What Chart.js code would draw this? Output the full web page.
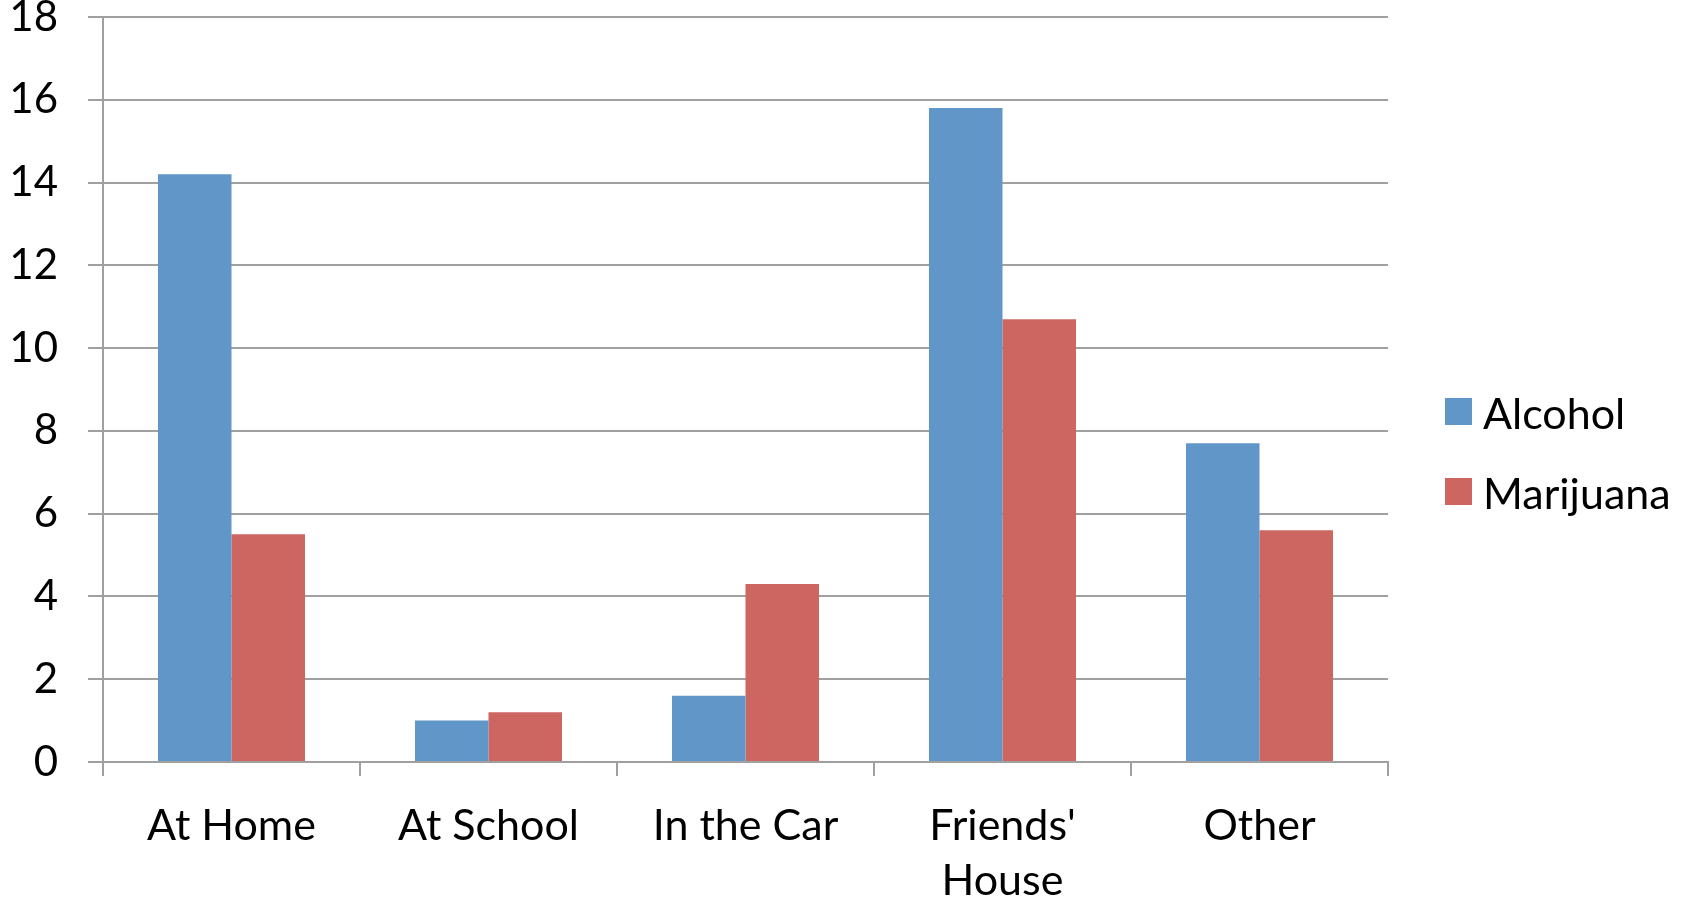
<!DOCTYPE html>
<html>
<head>
<meta charset="utf-8">
<script src="https://cdn.jsdelivr.net/npm/chart.js@4.4.1/dist/chart.umd.min.js"></script>
<style>
  html, body { margin: 0; padding: 0; background: #ffffff; }
  #wrap { position: relative; width: 1700px; height: 901px; }
  canvas { display: block; }
</style>
</head>
<body>
<div id="wrap"><canvas id="c" width="1700" height="901"></canvas></div>
<script>
const categories = ['At Home', 'At School', 'In the Car', ["Friends'", 'House'], 'Other'];
const seriesNames = ['Alcohol', 'Marijuana'];
const alcoholValues = [14.2, 1.0, 1.6, 15.8, 7.7];
const marijuanaValues = [5.5, 1.2, 4.3, 10.7, 5.6];
const yTickLabels = [0, 2, 4, 6, 8, 10, 12, 14, 16, 18];

const BLUE = '#6096c8';
const RED = '#cd6661';
const GRID = '#a0a0a0';
const FONT = 'Lato, "Open Sans", "Noto Sans", sans-serif';

const legendPlugin = {
  id: 'sideLegend',
  afterDraw(chart) {
    const ctx = chart.ctx;
    const items = chart.data.datasets;
    const x0 = 1445, size = 27, gapY = 80, y0 = 398;
    ctx.save();
    ctx.font = '43px ' + FONT;
    ctx.textBaseline = 'middle';
    ctx.textAlign = 'left';
    items.forEach((ds, i) => {
      const y = y0 + i * gapY;
      ctx.fillStyle = ds.backgroundColor;
      ctx.fillRect(x0, y, size, size);
      ctx.fillStyle = '#000000';
      ctx.fillText(ds.label, x0 + 38, y + size / 2 + 4);
    });
    ctx.restore();
  }
};

new Chart(document.getElementById('c'), {
  type: 'bar',
  data: {
    labels: categories,
    datasets: [
      { label: seriesNames[0], data: alcoholValues, backgroundColor: BLUE },
      { label: seriesNames[1], data: marijuanaValues, backgroundColor: RED }
    ]
  },
  options: {
    responsive: false,
    animation: false,
    devicePixelRatio: 1,
    layout: { padding: { left: 0, right: 312, top: 0, bottom: 0 } },
    datasets: { bar: { categoryPercentage: 0.572, barPercentage: 1.0, borderWidth: 0 } },
    plugins: { legend: { display: false }, tooltip: { enabled: false } },
    scales: {
      x: {
        offset: true,
        grid: { offset: true, drawOnChartArea: false, drawTicks: true, tickLength: 14, color: GRID, lineWidth: 2 },
        border: { display: true, color: GRID, width: 2 },
        ticks: { color: '#000000', padding: 23, maxRotation: 0, autoSkip: false,
                 font: { family: FONT, size: 43, lineHeight: 1.27 } },
        afterFit(scale) { scale.height = 139; }
      },
      y: {
        min: 0, max: 18,
        afterBuildTicks(scale) { scale.ticks = yTickLabels.map(v => ({ value: v })); },
        grid: { color: GRID, lineWidth: 2, tickLength: 15, drawTicks: true },
        border: { display: true, color: GRID, width: 2 },
        ticks: { color: '#000000', padding: 30,
                 font: { family: FONT, size: 42, lineHeight: 1.0 } },
        afterFit(scale) { scale.width = 103; scale.paddingTop = 17; }
      }
    }
  },
  plugins: [legendPlugin]
});
</script>
</body>
</html>
